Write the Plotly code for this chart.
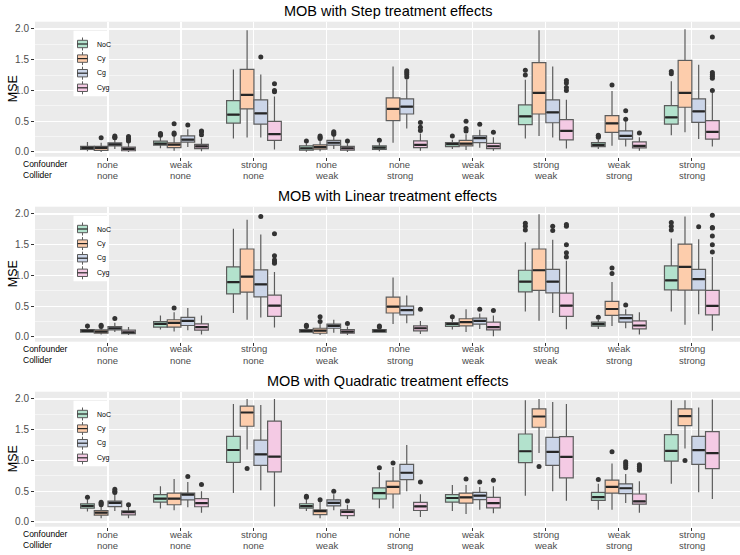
import plotly.graph_objects as go

# ---------------- data ----------------
confounder = ["none", "weak", "strong", "none", "none", "weak", "strong", "weak", "strong"]
collider = ["none", "none", "none", "weak", "strong", "weak", "weak", "strong", "strong"]
groups = ["NoC", "Cy", "Cg", "Cyg"]
titles = ["MOB with Step treatment effects",
          "MOB with Linear treatment effects",
          "MOB with Quadratic treatment effects"]

# Step panel: rows = NoC, Cy, Cg, Cyg ; columns = 9 scenarios
step_lo = [[0.01, 0.06, 0.22, 0.005, 0.01, 0.05, 0.22, 0.05, 0.27],
           [0.0, 0.02, 0.235, 0.01, 0.15, 0.03, 0.26, 0.1, 0.32],
           [0.05, 0.08, 0.235, 0.05, 0.38, 0.07, 0.235, 0.087, 0.21],
           [0.0, 0.01, 0.04, 0.0, 0.02, 0.02, 0.055, 0.02, 0.087]]
step_q1 = [[0.04, 0.11, 0.47, 0.03, 0.04, 0.087, 0.443, 0.087, 0.454],
           [0.025, 0.07, 0.70, 0.045, 0.508, 0.1, 0.617, 0.317, 0.727],
           [0.1, 0.16, 0.454, 0.11, 0.617, 0.153, 0.475, 0.208, 0.48],
           [0.02, 0.055, 0.19, 0.03, 0.07, 0.055, 0.197, 0.066, 0.208]]
step_med = [[0.065, 0.135, 0.607, 0.06, 0.07, 0.126, 0.58, 0.115, 0.563],
            [0.065, 0.12, 0.929, 0.08, 0.70, 0.137, 0.962, 0.464, 0.962],
            [0.125, 0.2, 0.628, 0.15, 0.738, 0.224, 0.645, 0.262, 0.661],
            [0.05, 0.09, 0.29, 0.06, 0.115, 0.093, 0.344, 0.098, 0.328]]
step_q3 = [[0.09, 0.175, 0.836, 0.1, 0.1, 0.153, 0.765, 0.153, 0.754],
           [0.09, 0.15, 1.344, 0.115, 0.88, 0.19, 1.454, 0.59, 1.49],
           [0.15, 0.26, 0.847, 0.19, 0.863, 0.262, 0.847, 0.344, 0.863],
           [0.08, 0.125, 0.497, 0.09, 0.18, 0.14, 0.525, 0.164, 0.508]]
step_hi = [[0.16, 0.25, 1.34, 0.14, 0.15, 0.2, 1.175, 0.2, 1.15],
           [0.15, 0.27, 1.98, 0.2, 1.39, 0.29, 1.98, 0.99, 1.995],
           [0.2, 0.37, 1.26, 0.27, 1.18, 0.36, 1.39, 0.5, 1.42],
           [0.15, 0.22, 0.9, 0.14, 0.3, 0.24, 0.85, 0.24, 0.97]]
step_out = [[[], [0.27, 0.29, 0.3], [], [0.18], [0.19], [0.26], [1.25, 1.33], [0.24, 0.26, 0.27], [1.27, 1.31]],
            [[0.23], [0.29, 0.31, 0.46], [], [0.22, 0.24, 0.26], [], [0.34, 0.38, 0.5], [], [1.087], []],
            [[0.23, 0.24, 0.26], [0.44], [1.546], [0.29, 0.31, 0.33], [1.22, 1.26, 1.29, 1.32], [0.45], [], [0.53, 0.67], []],
            [[0.18, 0.2, 0.22, 0.25], [0.28, 0.33, 0.34], [0.98, 1.0, 1.11], [0.18], [0.35, 0.4, 0.48], [0.32],
             [1.0, 1.05, 1.12, 1.16], [0.31], [1.0, 1.2, 1.23, 1.26, 1.29, 1.87]]]

# Linear panel
lin_lo = [[0.07, 0.12, 0.39, 0.07, 0.07, 0.12, 0.416, 0.13, 0.416],
          [0.04, 0.09, 0.28, 0.03, 0.21, 0.08, 0.263, 0.18, 0.2],
          [0.08, 0.11, 0.318, 0.07, 0.225, 0.13, 0.39, 0.14, 0.37],
          [0.03, 0.04, 0.153, 0.03, 0.05, 0.01, 0.126, 0.04, 0.1]]
lin_q1 = [[0.077, 0.16, 0.70, 0.077, 0.077, 0.17, 0.734, 0.175, 0.767],
          [0.06, 0.16, 0.729, 0.06, 0.39, 0.18, 0.756, 0.35, 0.76],
          [0.115, 0.186, 0.652, 0.142, 0.36, 0.208, 0.718, 0.24, 0.76],
          [0.055, 0.11, 0.334, 0.06, 0.1, 0.115, 0.334, 0.13, 0.36]]
lin_med = [[0.1, 0.214, 0.893, 0.1, 0.1, 0.208, 0.9, 0.208, 0.92],
           [0.088, 0.23, 0.98, 0.104, 0.493, 0.24, 1.085, 0.455, 1.14],
           [0.142, 0.263, 0.855, 0.18, 0.438, 0.263, 0.9, 0.307, 0.94],
           [0.077, 0.159, 0.51, 0.088, 0.142, 0.159, 0.51, 0.186, 0.504]]
lin_q3 = [[0.12, 0.25, 1.14, 0.12, 0.12, 0.235, 1.085, 0.24, 1.156],
          [0.115, 0.28, 1.43, 0.142, 0.647, 0.296, 1.43, 0.58, 1.51],
          [0.17, 0.318, 1.09, 0.208, 0.5, 0.307, 1.1, 0.36, 1.1],
          [0.11, 0.214, 0.68, 0.12, 0.18, 0.241, 0.712, 0.263, 0.756]]
lin_hi = [[0.16, 0.35, 1.76, 0.15, 0.14, 0.3, 1.54, 0.28, 1.6],
          [0.14, 0.4, 1.907, 0.22, 0.965, 0.45, 1.995, 0.893, 1.96],
          [0.23, 0.47, 1.666, 0.28, 0.674, 0.38, 1.58, 0.45, 1.59],
          [0.16, 0.35, 1.057, 0.17, 0.26, 0.35, 1.24, 0.4, 1.3]]
lin_out = [[[0.18], [], [], [0.17, 0.19], [0.16, 0.18], [0.33], [1.74, 1.8, 1.85], [0.32], [1.74, 1.8, 1.86]],
           [[0.17, 0.19], [0.47], [], [0.25, 0.33], [], [], [], [1.03, 1.12], []],
           [[0.3], [], [1.96], [], [], [0.45], [1.73, 1.8], [0.52], [1.79]],
           [[], [], [1.2, 1.22, 1.25, 1.32, 1.68], [0.22], [0.45], [0.43], [1.3, 1.37, 1.5, 1.8, 1.83], [],
            [1.38, 1.5, 1.64, 1.77, 1.78, 1.98]]]

# Quadratic panel
quad_lo = [[0.17, 0.22, 0.47, 0.18, 0.225, 0.18, 0.427, 0.2, 0.62],
           [0.06, 0.19, 1.18, 0.06, 0.22, 0.13, 1.12, 0.2, 1.195],
           [0.18, 0.24, 0.515, 0.19, 0.5, 0.2, 0.5, 0.307, 0.482],
           [0.06, 0.15, 0.25, 0.05, 0.08, 0.14, 0.345, 0.15, 0.373]]
quad_q1 = [[0.225, 0.323, 0.97, 0.225, 0.373, 0.323, 0.964, 0.35, 0.99],
           [0.11, 0.28, 1.556, 0.12, 0.455, 0.307, 1.54, 0.47, 1.567],
           [0.25, 0.36, 0.92, 0.26, 0.69, 0.362, 0.92, 0.46, 0.937],
           [0.115, 0.247, 0.816, 0.104, 0.186, 0.23, 0.718, 0.29, 0.866]]
quad_med = [[0.263, 0.378, 1.17, 0.258, 0.47, 0.39, 1.15, 0.405, 1.156],
            [0.153, 0.378, 1.78, 0.175, 0.57, 0.4, 1.715, 0.57, 1.72],
            [0.312, 0.444, 1.1, 0.312, 0.8, 0.427, 1.14, 0.548, 1.167],
            [0.159, 0.307, 1.063, 0.164, 0.252, 0.307, 1.057, 0.334, 1.118]]
quad_q3 = [[0.296, 0.444, 1.39, 0.296, 0.553, 0.444, 1.43, 0.482, 1.42],
           [0.186, 0.47, 1.885, 0.197, 0.663, 0.47, 1.84, 0.68, 1.84],
           [0.34, 0.47, 1.33, 0.36, 0.937, 0.482, 1.375, 0.62, 1.39],
           [0.18, 0.378, 1.64, 0.197, 0.318, 0.4, 1.386, 0.455, 1.47]]
quad_hi = [[0.37, 0.58, 1.92, 0.37, 0.81, 0.6, 1.98, 0.62, 1.98],
           [0.26, 0.7, 2.0, 0.33, 0.893, 0.6, 2.0, 0.95, 1.98],
           [0.45, 0.65, 1.9, 0.45, 1.25, 0.57, 1.95, 0.78, 1.86],
           [0.26, 0.5, 2.0, 0.28, 0.45, 0.58, 1.92, 0.66, 1.99]]
quad_out = [[[0.4], [], [], [0.4, 0.42], [0.88], [], [], [0.69], []],
            [[0.28, 0.3, 0.32], [], [0.87], [0.36], [0.96], [0.7], [0.9], [1.14], [1.0]],
            [[0.48, 0.5, 0.53], [0.74], [], [0.5], [], [0.65], [], [0.88, 0.92, 0.95, 0.98], []],
            [[0.28], [0.61], [], [0.34], [0.65], [0.68], [], [0.84, 0.87, 0.9, 0.93], []]]

panels = [
    (step_lo, step_q1, step_med, step_q3, step_hi, step_out),
    (lin_lo, lin_q1, lin_med, lin_q3, lin_hi, lin_out),
    (quad_lo, quad_q1, quad_med, quad_q3, quad_hi, quad_out),
]

# ---------------- styling ----------------
colors = ["#B3E2CD", "#FDCDAC", "#CBD5E8", "#F4CAE4"]
outline = "#5C5C5C"
W, H = 740, 555
plot_left = 35
# panel (top, bottom) in pixels
panel_px = [(21.7, 156.7), (206.7, 341.7), (391.7, 526.7)]
y_range = [-0.077, 2.118]

cat_pos = list(range(1, len(confounder) + 1))
dodge = 0.75
bw = dodge / len(groups)
offsets = [-dodge / 2 + bw * (g + 0.5) for g in range(len(groups))]

fig = go.Figure()
layout_axes = {}
annotations = []
shapes = []
font_family = "Liberation Sans, Arial, sans-serif"

for p, (lo, q1, med, q3, hi, out) in enumerate(panels):
    sfx = "" if p == 0 else str(p + 1)
    xa, ya = "x" + sfx, "y" + sfx
    top, bot = panel_px[p]
    for g in range(len(groups)):
        xs = [c + offsets[g] for c in cat_pos]
        fig.add_trace(go.Box(
            x=xs, q1=q1[g], median=med[g], q3=q3[g],
            lowerfence=lo[g], upperfence=hi[g],
            width=bw, whiskerwidth=0, fillcolor=colors[g],
            line=dict(color=outline, width=1.2),
            name=groups[g], showlegend=False, hoverinfo="skip",
            xaxis=xa, yaxis=ya))
        mx, my = [], []
        for x, m in zip(xs, med[g]):
            mx += [x - bw / 2 + 0.01, x + bw / 2 - 0.01, None]
            my += [m, m, None]
        fig.add_trace(go.Scatter(x=mx, y=my, mode="lines",
                                 line=dict(color="#262626", width=2.2),
                                 showlegend=False, hoverinfo="skip",
                                 xaxis=xa, yaxis=ya))
        ox, oy = [], []
        for x, vals in zip(xs, out[g]):
            ox += [x] * len(vals)
            oy += vals
        fig.add_trace(go.Scatter(x=ox, y=oy, mode="markers",
                                 marker=dict(color="#333333", size=5),
                                 showlegend=False, hoverinfo="skip",
                                 xaxis=xa, yaxis=ya))

    dom = [1 - bot / H, 1 - top / H]
    layout_axes["xaxis" + sfx] = dict(
        domain=[plot_left / W, 1], range=[0, 9.66], anchor=ya,
        tickmode="array", tickvals=cat_pos, showticklabels=False,
        showgrid=True, gridcolor="white", gridwidth=1.1, zeroline=False,
        ticks="outside", ticklen=3, tickwidth=1, tickcolor="#333333",
        showline=False, automargin=False, fixedrange=True)
    layout_axes["yaxis" + sfx] = dict(
        domain=dom, range=y_range, anchor=xa,
        tick0=0, dtick=0.5, tickformat=".1f",
        showgrid=True, gridcolor="white", gridwidth=1.1, zeroline=False,
        minor=dict(tick0=0.25, dtick=0.5, showgrid=True, gridcolor="white", gridwidth=0.5),
        ticks="outside", ticklen=3, tickwidth=1, tickcolor="#333333",
        tickfont=dict(size=10, color="#4D4D4D", family=font_family),
        showline=False, automargin=False, fixedrange=True)

    xd, yd = xa + " domain", ya + " domain"
    # category labels (two lines: confounder / collider)
    for c, a, b in zip(cat_pos, confounder, collider):
        for k, lab in enumerate([a, b]):
            annotations.append(dict(text=lab, x=c, y=0, xref=xa, yref=yd,
                                    xanchor="center", yanchor="middle", yshift=-(7.3 + 11.2 * k),
                                    showarrow=False,
                                    font=dict(size=9.5, color="#4D4D4D", family=font_family)))
    # row labels for the category labels
    for k, lab in enumerate(["Confounder", "Collider"]):
        annotations.append(dict(text=lab, x=21 / W, y=0, xref="paper", yref=yd,
                                xanchor="left", yanchor="middle", yshift=-(7.0 + 11.4 * k),
                                showarrow=False, font=dict(size=8.5, color="black", family=font_family)))

    # panel title
    annotations.append(dict(text=titles[p], x=(plot_left + W) / 2 / W, y=1 - (top - 10.7) / H,
                            xref="paper", yref="paper", xanchor="center", yanchor="middle",
                            showarrow=False, font=dict(size=14.5, color="black", family=font_family)))
    # y axis title
    annotations.append(dict(text="MSE", x=13 / W, y=1 - (top + bot) / 2 / H, textangle=-90,
                            xref="paper", yref="paper", xanchor="center", yanchor="middle",
                            showarrow=False, font=dict(size=12.5, color="black", family=font_family)))

    # legend (inside panel, top-left)
    ph = bot - top
    pw = W - plot_left
    shapes.append(dict(type="rect", xref=xd, yref=yd, x0=38.5 / pw, x1=73.5 / pw,
                       y0=1 - 74.5 / ph, y1=1 - 9.0 / ph, fillcolor="white", line=dict(width=0), layer="above"))
    for g in range(len(groups)):
        cy = 22.3 + 14.6 * g
        kx0, kx1, kxc = 42.5 / pw, 52.5 / pw, 47.5 / pw
        shapes.append(dict(type="line", xref=xd, yref=yd, x0=kxc, x1=kxc,
                           y0=1 - (cy - 6.5) / ph, y1=1 - (cy + 6.5) / ph,
                           line=dict(color=outline, width=1), layer="above"))
        shapes.append(dict(type="rect", xref=xd, yref=yd, x0=kx0, x1=kx1,
                           y0=1 - (cy - 3.7) / ph, y1=1 - (cy + 3.7) / ph,
                           fillcolor=colors[g], line=dict(color=outline, width=1), layer="above"))
        shapes.append(dict(type="line", xref=xd, yref=yd, x0=kx0, x1=kx1,
                           y0=1 - cy / ph, y1=1 - cy / ph,
                           line=dict(color="#262626", width=1.2), layer="above"))
        annotations.append(dict(text=groups[g], xref=xd, yref=yd, x=60 / pw, y=1 - cy / ph,
                                xanchor="left", yanchor="middle", showarrow=False,
                                font=dict(size=7, color="black", family=font_family)))

fig.update_layout(
    width=W, height=H, margin=dict(l=0, r=0, t=0, b=0),
    paper_bgcolor="white", plot_bgcolor="#EBEBEB",
    showlegend=False, boxmode="overlay", hovermode=False,
    font=dict(family=font_family),
    annotations=annotations, shapes=shapes,
    **layout_axes)

fig.write_html("out.html",
               config={"displayModeBar": False, "staticPlot": True},
               post_script=("document.documentElement.style.margin='0';"
                            "document.documentElement.style.overflow='hidden';"
                            "document.body.style.margin='0';"
                            "document.body.style.overflow='hidden';"))
